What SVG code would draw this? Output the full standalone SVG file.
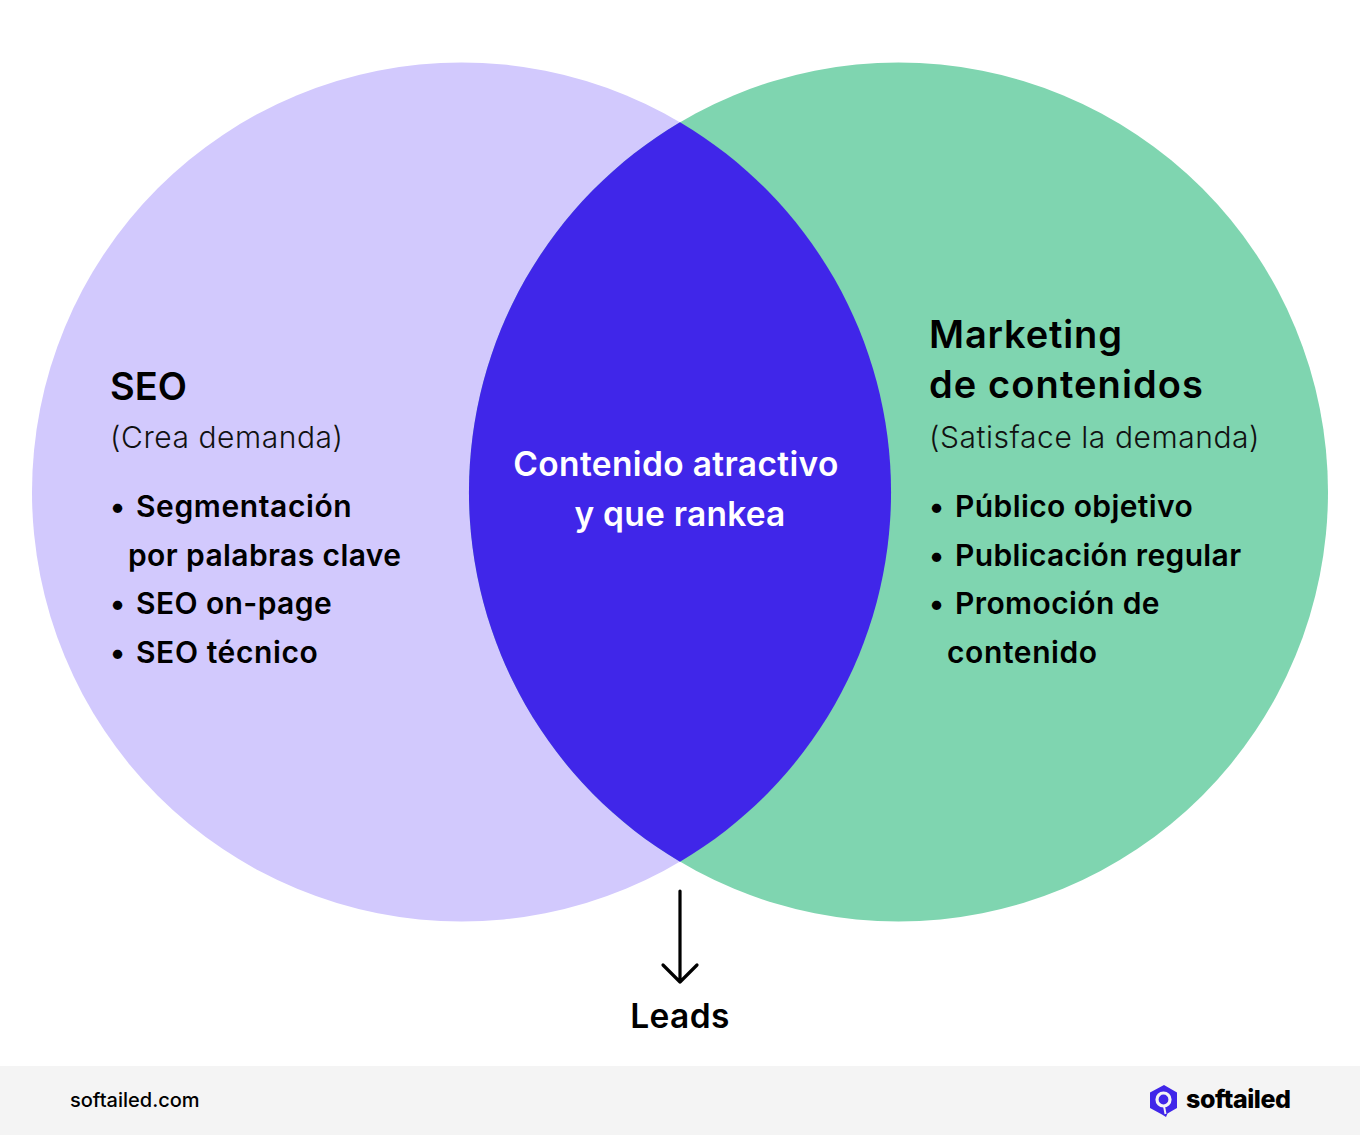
<svg xmlns="http://www.w3.org/2000/svg" width="1360" height="1136" viewBox="0 0 1360 1136">
<style>
text{font-family:Inter,"Liberation Sans",sans-serif;fill:#000}
.h{font-size:38px;font-weight:600;letter-spacing:.85px}
.s{font-size:30px;font-weight:300;fill:#111;letter-spacing:.55px}
.b{font-size:30px;font-weight:600;letter-spacing:.4px}
.n{letter-spacing:.6px}
.c{font-size:33.5px;font-weight:600;fill:#fff;letter-spacing:.35px}
</style>
<rect width="1360" height="1136" fill="#fff"/>
<rect y="1066" width="1360" height="69" fill="#f4f4f4"/>
<g id="node-seo">
<circle cx="461.500" cy="492" r="429.500" fill="#d2c9fd"/>
<text class="h" x="110" y="400" style="letter-spacing:0">SEO</text>
<text class="s" x="110" y="448">(Crea demanda)</text>
<text class="b" x="110" y="517">•</text><text class="b n" x="136" y="517">Segmentación</text>
<text class="b" x="128" y="566">por palabras clave</text>
<text class="b" x="110" y="614">•</text><text class="b" x="136" y="614">SEO on-page</text>
<text class="b" x="110" y="663">•</text><text class="b n" x="136" y="663">SEO técnico</text>
</g>
<g id="node-marketing">
<circle cx="898.500" cy="492" r="429.500" fill="#7fd5b0"/>
<text class="h" x="929" y="348">Marketing</text>
<text class="h" x="929" y="398" style="letter-spacing:1.1px">de contenidos</text>
<text class="s" x="929" y="448">(Satisface la demanda)</text>
<text class="b" x="929" y="517">•</text><text class="b" x="955" y="517">Público objetivo</text>
<text class="b" x="929" y="566">•</text><text class="b" style="letter-spacing:.35px" x="955" y="566">Publicación regular</text>
<text class="b" x="929" y="614">•</text><text class="b" x="955" y="614">Promoción de</text>
<text class="b n" x="947" y="663">contenido</text>
</g>
<g id="node-overlap">
<path d="M680 122.200A429.500 429.500 0 0 1 680 861.800A429.500 429.500 0 0 1 680 122.200Z" fill="#4026e9"/>
<text class="c" x="676" y="476" text-anchor="middle">Contenido atractivo</text>
<text class="c" x="680" y="526" text-anchor="middle" style="letter-spacing:.25px">y que rankea</text>
</g>
<g id="connectors">
<path d="M680 891V982M663 965L680 982L697 965" fill="none" stroke="#000" stroke-width="3.200" stroke-linecap="round" stroke-linejoin="round"/>
</g>
<g id="node-leads"><text x="680" y="1028" text-anchor="middle" style="font-size:33.5px;font-weight:600;letter-spacing:.4px">Leads</text></g>
<g id="footer">
<text x="70" y="1107" style="font-size:20px;font-weight:500">softailed.com</text>
<path d="M1164 1085L1177 1092.500V1108L1167.500 1113.500L1166 1117L1162 1114.500L1150 1108V1092.500Z" fill="#4026e9"/>
<circle cx="1163.500" cy="1099.500" r="6.500" fill="none" stroke="#f4f4f4" stroke-width="3.200"/>
<path d="M1164 1106L1165.500 1114" stroke="#f4f4f4" stroke-width="2" fill="none"/>
<text x="1186" y="1108" style="font-size:25px;font-weight:800;letter-spacing:-0.45px">softailed</text>
</g>
</svg>
